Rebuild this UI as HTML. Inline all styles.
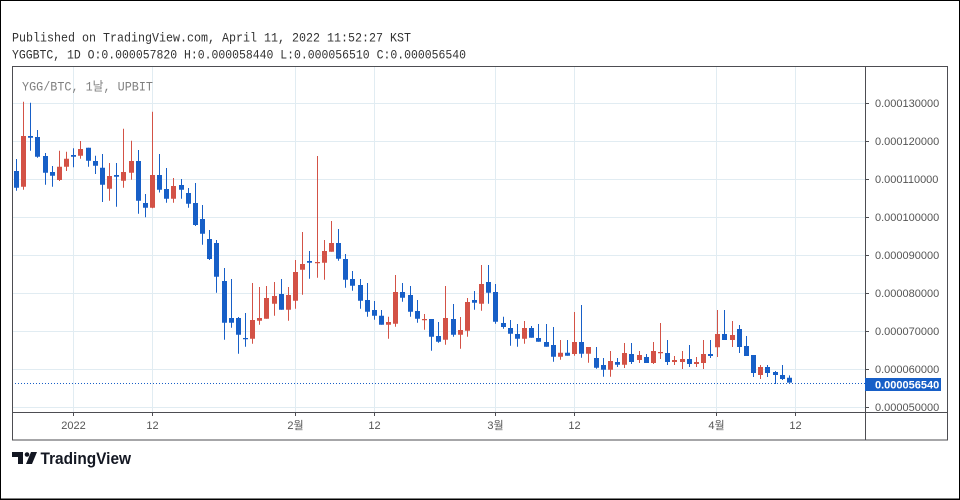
<!DOCTYPE html>
<html><head><meta charset="utf-8"><style>
html,body{margin:0;padding:0;background:#fff;}
svg{display:block;}
</style></head><body>
<svg width="960" height="500" viewBox="0 0 960 500" xmlns="http://www.w3.org/2000/svg">
<rect x="0" y="0" width="960" height="500" fill="#fff"/>
<text x="12" y="41.7" font-family="Liberation Mono, monospace" font-size="12.5" fill="#333" textLength="399" lengthAdjust="spacingAndGlyphs">Published on TradingView.com, April 11, 2022 11:52:27 KST</text>
<text x="12" y="58.3" font-family="Liberation Mono, monospace" font-size="12.5" fill="#333" textLength="454" lengthAdjust="spacingAndGlyphs">YGGBTC, 1D O:0.000057820 H:0.000058440 L:0.000056510 C:0.000056540</text>
<g stroke="#e1ecf2" stroke-width="1">
<path d="M12 103.5H865M12 141.5H865M12 179.5H865M12 217.5H865M12 255.5H865M12 293.5H865M12 331.5H865M12 369.5H865M12 407.5H865"/>
<path d="M73.5 66V412M152.5 66V412M295.5 66V412M374.5 66V412M495.5 66V412M574.5 66V412M716.5 66V412M795.5 66V412"/>
</g>
<text x="22" y="90.5" font-family="Liberation Mono, 'Noto Sans CJK KR', monospace" font-size="12.5" fill="#808080" textLength="131" lengthAdjust="spacingAndGlyphs">YGG/BTC, 1날, UPBIT</text>
<path d="M12 383.5H865" stroke="#175fc7" stroke-width="1" stroke-dasharray="1 2"/>
<g stroke="#d35246" stroke-width="1" fill="none">
<path d="M23.5 101.7V189.7M59.5 150.7V181M66.5 151.7V171M80.5 141V158.7M109.5 163V200.7M123.5 128.7V187.7M131.5 140.7V179.7M152.5 111.7V208.3M173.5 178V202.7M252.5 283V343.7M259.5 287V324.7M266.5 286V318.7M274.5 282V315.7M288.5 287V320.7M295.5 260V308.7M302.5 232V294.7M317.5 156V277.7M324.5 240V279.7M331.5 221V251.7M388.5 316.7V338.7M395.5 275V326.7M424.5 314V329.7M445.5 286V344.7M460.5 317V348.7M467.5 298V336.7M481.5 265V310.7M524.5 321V343.7M560.5 340V359.7M574.5 312V355.7M588.5 347V362.7M610.5 351V376.7M624.5 343V368M639.5 351V363M653.5 342V364M660.5 323V359M674.5 356V365M682.5 351V369M696.5 357V367M703.5 340V369M717.5 310V357M732.5 321V347M760.5 365V379"/>
</g>
<path fill="#d35246" d="M21 136h5V186.7h-5zM57 166.7h5V180h-5zM64 158.7h5V166.7h-5zM78 149h5V155.7h-5zM107 176h5V188.7h-5zM121 172h5V180.7h-5zM129 161h5V172.7h-5zM150 175h5V207.7h-5zM171 186h5V198.7h-5zM250 320h5V338.7h-5zM257 318h5V320.7h-5zM264 298h5V318.7h-5zM272 296h5V303.7h-5zM286 295h5V309.7h-5zM293 272h5V300.7h-5zM300 264h5V269.7h-5zM315 262h5V263.3h-5zM322 251h5V262.7h-5zM329 243h5V251.7h-5zM386 322h5V324.7h-5zM393 292h5V323.7h-5zM422 319h5V320.3h-5zM443 318h5V339.7h-5zM458 330h5V334.7h-5zM465 302h5V330.7h-5zM479 284h5V303.7h-5zM522 328h5V338.7h-5zM558 352.7h5V356.7h-5zM572 342h5V354h-5zM586 347h5V353.7h-5zM608 361h5V369.7h-5zM622 353h5V364.7h-5zM637 355h5V360h-5zM651 351h5V363h-5zM658 352h5V353.3h-5zM672 360h5V362h-5zM680 359h5V362h-5zM694 362h5V364h-5zM701 354h5V363h-5zM715 334h5V347.3h-5zM730 335h5V340h-5zM758 367h5V375h-5z"/>
<g stroke="#175fc7" stroke-width="1" fill="none">
<path d="M16.5 159V190.7M30.5 102.7V150.7M37.5 130V157.7M45.5 153V184.7M52.5 166V186.7M73.5 148.3V167.3M88.5 147.7V166.7M95.5 155.7V174M102.5 154V202M116.5 163V206.7M138.5 150V213.7M145.5 194V217.3M159.5 154V192.5M166.5 168V202.7M181.5 179V198.7M188.5 188V207.7M195.5 183V226M202.5 205V244.7M209.5 230V260M216.5 240V292.7M224.5 268V339.7M231.5 279V327.7M238.5 317V353.7M245.5 313V346.7M281.5 279V309.7M309.5 251V278.7M338.5 229V260.7M345.5 254V287.7M352.5 271V290.7M360.5 279V308.7M367.5 283V316.7M374.5 301V319.7M381.5 310V324.7M402.5 283V301.7M410.5 286V316.7M417.5 300V322.7M431.5 319V350.7M438.5 322V342.7M453.5 304V336.7M474.5 291V309.7M488.5 265V303.7M495.5 284V323.7M503.5 316.7V328.7M510.5 320V345.7M517.5 324V346.7M531.5 326V337.7M538.5 324V341.7M546.5 324V346.7M553.5 327V361.7M567.5 340V355.7M581.5 305V357.7M596.5 347V368.7M603.5 358V376.7M617.5 358V367M631.5 343V364M646.5 354V363M667.5 340V365M689.5 345V367M710.5 340V358M724.5 310V340M739.5 325V353M746.5 336V356M753.5 355V377M767.5 365V377M775.5 371V384M782.5 365V380M789.5 375.4V382.7"/>
</g>
<path fill="#175fc7" d="M14 171h5V187.7h-5zM28 136h5V137.7h-5zM35 137h5V156.7h-5zM43 156h5V172.7h-5zM50 172h5V175.7h-5zM71 155h5V156.7h-5zM86 147.7h5V160.7h-5zM93 161h5V165.7h-5zM100 167.7h5V184.7h-5zM114 175h5V176.7h-5zM136 161h5V200.7h-5zM143 203h5V207.7h-5zM157 175h5V189.7h-5zM164 189h5V198.7h-5zM179 185h5V189.7h-5zM186 193h5V203.7h-5zM193 203h5V225h-5zM200 219h5V233.7h-5zM207 239h5V259h-5zM214 243h5V276.7h-5zM222 281h5V322.7h-5zM229 318h5V322.7h-5zM236 318h5V334.7h-5zM243 338h5V339.2h-5zM279 294h5V309.7h-5zM307 261h5V262.7h-5zM336 243h5V258.7h-5zM343 259h5V279.7h-5zM350 279h5V285.7h-5zM358 285h5V300.7h-5zM365 300h5V311.7h-5zM372 310h5V315.7h-5zM379 315.7h5V324.7h-5zM400 292h5V297.7h-5zM408 295h5V311.7h-5zM415 311h5V318.7h-5zM429 319h5V336.7h-5zM436 336h5V341.7h-5zM451 319h5V334.7h-5zM472 300h5V302.7h-5zM486 282h5V292.7h-5zM493 292h5V321.7h-5zM501 323h5V327h-5zM508 328h5V333.7h-5zM515 334h5V338.7h-5zM529 328h5V337.7h-5zM536 338h5V341.7h-5zM544 342h5V346.7h-5zM551 345h5V356.7h-5zM565 352.7h5V355.7h-5zM579 342h5V353.7h-5zM594 358h5V367.7h-5zM601 365h5V369.7h-5zM615 362h5V364.7h-5zM629 354h5V362h-5zM644 357h5V363h-5zM665 353h5V362h-5zM687 359h5V364h-5zM708 354h5V356h-5zM722 334h5V340h-5zM737 329h5V347h-5zM744 346h5V356h-5zM751 355h5V373h-5zM765 367h5V373h-5zM773 372h5V375h-5zM780 375h5V379h-5zM787 377.7h5V382.6h-5z"/>
<rect x="12.5" y="66.5" width="935" height="373.5" fill="none" stroke="#4d4d52" stroke-width="1"/>
<path d="M865.5 66V440M12 412.5H947" stroke="#4d4d52" stroke-width="1"/>
<g stroke="#4d4d52" stroke-width="1">
<path d="M865 103.5h4M865 141.5h4M865 179.5h4M865 217.5h4M865 255.5h4M865 293.5h4M865 331.5h4M865 369.5h4M865 407.5h4"/>
<path d="M73.5 412v4M152.5 412v4M295.5 412v4M374.5 412v4M495.5 412v4M574.5 412v4M716.5 412v4M795.5 412v4"/>
</g>
<g font-family="Liberation Sans, sans-serif" font-size="11" fill="#555">
<text x="875" y="107">0.000130000</text>
<text x="875" y="145">0.000120000</text>
<text x="875" y="183">0.000110000</text>
<text x="875" y="221">0.000100000</text>
<text x="875" y="259">0.000090000</text>
<text x="875" y="297">0.000080000</text>
<text x="875" y="335">0.000070000</text>
<text x="875" y="373">0.000060000</text>
<text x="875" y="411">0.000050000</text>
</g>
<rect x="865" y="378" width="76" height="13" fill="#175fc7"/>
<text x="875" y="388.3" font-family="Liberation Sans, sans-serif" font-size="11" font-weight="bold" fill="#fff">0.000056540</text>
<rect x="12" y="411" width="853" height="1" fill="#fff" opacity="0"/>
<g font-family="Liberation Sans, 'Noto Sans CJK KR', sans-serif" font-size="11" fill="#555" text-anchor="middle">
<text x="73.5" y="429">2022</text>
<text x="152.5" y="429">12</text>
<text x="295.5" y="429">2월</text>
<text x="374.5" y="429">12</text>
<text x="495.5" y="429">3월</text>
<text x="574.5" y="429">12</text>
<text x="716.5" y="429">4월</text>
<text x="795.5" y="429">12</text>
</g>
<g fill="#131722">
<path d="M12 452h11v12h-5v-7h-6z"/>
<circle cx="27" cy="454.5" r="2.3"/>
<path d="M31 452h6l-5 12h-6z"/>
</g>
<text x="40.5" y="464" font-family="Liberation Sans, sans-serif" font-size="16.5" font-weight="bold" fill="#131722" textLength="90.5" lengthAdjust="spacingAndGlyphs">TradingView</text>
<rect x="0.5" y="0.5" width="959" height="498.5" fill="none" stroke="#000" stroke-width="1"/>
<path d="M0 499.5H960" stroke="#000" stroke-width="1"/>
</svg>
</body></html>
